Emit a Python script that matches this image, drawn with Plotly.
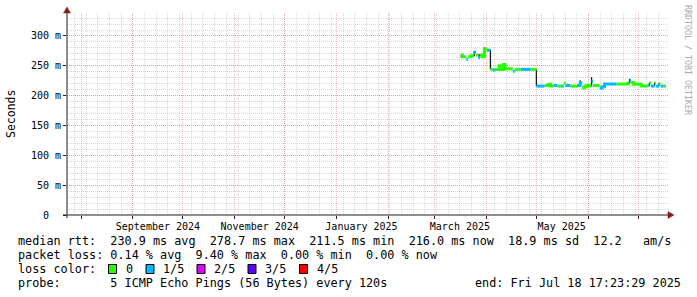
import plotly.graph_objects as go
import pandas as pd

# ---------------- data ----------------
x_start = "2024-07-23 12:00"
x_end = "2025-07-18 17:23"

# median rtt as a step series: segment start, value (ms), loss class (0 -> 0/5, 1 -> 1/5)
seg_start = [
    "2025-03-16 18:00", "2025-03-17 12:00", "2025-03-19 19:00", "2025-03-20 21:00",
    "2025-03-22 17:00", "2025-03-24 12:00", "2025-03-25 17:00", "2025-03-26 22:00",
    "2025-03-28 00:00", "2025-03-29 05:00", "2025-03-30 17:00", "2025-04-01 05:00",
    "2025-04-03 07:00", "2025-04-04 19:00", "2025-04-06 00:00", "2025-04-08 12:00",
    "2025-04-09 10:00", "2025-04-11 05:00", "2025-04-12 02:00", "2025-04-16 17:00",
    "2025-04-17 22:00", "2025-04-21 07:00", "2025-04-27 10:00", "2025-04-30 22:00",
    "2025-05-05 17:00", "2025-05-08 02:00", "2025-05-09 07:00", "2025-05-11 02:00",
    "2025-05-13 10:00", "2025-05-15 19:00", "2025-05-17 07:00", "2025-05-18 05:00",
    "2025-05-21 05:00", "2025-05-25 07:00", "2025-05-27 02:00", "2025-05-28 07:00",
    "2025-05-29 12:00", "2025-05-30 14:00", "2025-06-01 10:00", "2025-06-02 22:00",
    "2025-06-03 19:00", "2025-06-07 17:00", "2025-06-09 05:00", "2025-06-10 17:00",
    "2025-06-17 22:00", "2025-06-24 19:00", "2025-06-25 17:00", "2025-06-26 14:00",
    "2025-06-28 02:00", "2025-07-02 14:00", "2025-07-06 19:00", "2025-07-07 14:00",
    "2025-07-08 12:00", "2025-07-10 17:00", "2025-07-11 14:00", "2025-07-13 10:00",
    "2025-07-14 07:00", "2025-07-15 19:00",
]
seg_ms = [
    268, 265, 261, 265,
    267, 273, 268, 264,
    268, 265, 278, 276,
    244, 243, 244, 250,
    244, 252, 245, 241,
    244, 244, 244, 216,
    217, 219, 216, 217,
    216, 216, 221, 217,
    216, 217, 222, 213,
    215, 217, 216, 224,
    217, 213, 215, 219.5,
    219.5, 221, 226, 222,
    219, 216, 217, 221,
    216, 221, 216, 220,
    216, 216,
]
seg_loss = [
    0, 0, 1, 0,
    0, 1, 0, 1,
    0, 0, 0, 1,
    0, 1, 0, 0,
    0, 0, 0, 1,
    0, 1, 0, 1,
    0, 0, 0, 1,
    0, 1, 0, 1,
    0, 1, 1, 0,
    0, 0, 0, 1,
    0, 1, 1, 1,
    0, 0, 1, 0,
    0, 0, 1, 0,
    1, 0, 1, 0,
    1, 0,
]
data_end = "2025-07-17 12:00"

# smoke (spread of the pings) at a few spots
smoke_time = ["2025-03-16 20:00", "2025-03-24 14:00", "2025-03-27 12:00", "2025-03-30 19:00",
              "2025-04-03 07:00", "2025-04-08 12:00", "2025-04-11 05:00", "2025-04-30 20:00",
              "2025-05-27 02:00", "2025-06-02 22:00", "2025-06-25 17:00", "2025-07-07 14:00",
              "2025-07-10 17:00", "2025-07-13 10:00"]
smoke_lo = [264, 266, 265, 272, 244, 244, 245, 216, 216, 215, 220, 216, 216, 216]
smoke_hi = [269, 275, 270, 281, 277, 251, 253, 244, 226, 231, 228, 222, 222, 221]

y_ticks = [0, 50, 100, 150, 200, 250, 300]
y_tick_text = ["0\u00a0\u00a0", "50 m", "100 m", "150 m", "200 m", "250 m", "300 m"]
x_label_dates = ["2024-09-16", "2024-11-16", "2025-01-16", "2025-03-16", "2025-05-16"]
x_label_text = ["September 2024", "November 2024", "January 2025", "March 2025", "May 2025"]

loss_labels = ["0", "1/5", "2/5", "3/5", "4/5"]
loss_colors = ["#26ff00", "#00b8ff", "#dd00ff", "#5e00ff", "#ff0000"]

line_rtt = "median rtt:  230.9 ms avg  278.7 ms max  211.5 ms min  216.0 ms now  18.9 ms sd  12.2   am/s"
line_loss = "packet loss: 0.14 % avg  9.40 % max  0.00 % min  0.00 % now"
line_probe = "probe:       5 ICMP Echo Pings (56 Bytes) every 120s"
line_end = "end: Fri Jul 18 17:23:29 2025"

# ---------------- geometry helpers (pixels -> paper) ----------------
W, H = 697, 297
L, R, T, B = 67, 668, 13, 215


def px(x):
    return (x - L) / (R - L)


def py(y):
    return (B - y) / (B - T)


FONT = "DejaVu Sans Mono"
AXIS_COL = "#1f1f1f"
ARROW_COL = "#801f1f"
MGRID = "rgba(222,80,80,0.42)"
GRID = "rgba(140,140,140,0.32)"

fig = go.Figure()

# smoke
sx, sy = [], []
for t, lo, hi in zip(smoke_time, smoke_lo, smoke_hi):
    sx += [t, t, None]
    sy += [lo, hi, None]
fig.add_trace(go.Scatter(x=sx, y=sy, mode="lines", line=dict(color="#1a1a1a", width=1.3),
                         hoverinfo="skip"))

# median coloured by loss
ends = seg_start[1:] + [data_end]
n = len(seg_start)
for k in (0, 1):
    xs, ys = [], []
    i = 0
    while i < n:
        if seg_loss[i] != k:
            i += 1
            continue
        j = i
        while j + 1 < n and seg_loss[j + 1] == k:
            j += 1
        for m in range(i, j + 1):
            xs.append(seg_start[m])
            ys.append(seg_ms[m])
        xs.append(ends[j])
        ys.append(seg_ms[j])
        xs.append(None)
        ys.append(None)
        i = j + 1
    fig.add_trace(go.Scatter(x=xs, y=ys, mode="lines",
                             line=dict(color=loss_colors[k], width=3, shape="hv"),
                             connectgaps=False, hoverinfo="skip"))

# invisible trace to carry the label axis
fig.add_trace(go.Scatter(x=x_label_dates, y=[0] * len(x_label_dates), xaxis="x2",
                         mode="markers", marker=dict(opacity=0), hoverinfo="skip"))

month_starts = pd.date_range("2024-08-01", "2025-07-01", freq="MS")
weeks = pd.date_range("2024-07-28", "2025-07-13", freq="7D")

fig.update_layout(
    width=W, height=H,
    margin=dict(l=L, r=W - R, t=T, b=H - B),
    paper_bgcolor="white", plot_bgcolor="white",
    showlegend=False,
    font=dict(family=FONT, size=10, color="black"),
    xaxis=dict(
        type="date", range=[x_start, x_end],
        tickmode="array", tickvals=list(month_starts), ticktext=[""] * len(month_starts),
        showgrid=True, gridcolor=MGRID, griddash="1px,1px", gridwidth=1,
        ticks="outside", ticklen=3, tickcolor=AXIS_COL, tickwidth=1,
        showline=False, zeroline=False,
        minor=dict(tickmode="array", tickvals=list(weeks), showgrid=True,
                   gridcolor=GRID, griddash="1px,1px", gridwidth=1, ticks=""),
    ),
    xaxis2=dict(
        type="date", range=[x_start, x_end], overlaying="x", anchor="y", side="bottom",
        tickmode="array", tickvals=x_label_dates, ticktext=x_label_text,
        showgrid=False, ticks="", showline=False, zeroline=False,
        tickfont=dict(family=FONT, size=10, color="black"),
        ticklabelstandoff=4,
    ),
    yaxis=dict(
        range=[0, 338.5],
        tickmode="array", tickvals=y_ticks, ticktext=y_tick_text,
        showgrid=True, gridcolor=MGRID, griddash="1px,1px", gridwidth=1,
        ticks="outside", ticklen=3, tickcolor=AXIS_COL, tickwidth=1,
        showline=False, zeroline=False,
        tickfont=dict(family=FONT, size=10, color="black"),
        minor=dict(tick0=0, dtick=10, showgrid=True, gridcolor=GRID,
                   griddash="1px,1px", gridwidth=1, ticks=""),
    ),
)

shapes = []
# axis lines
shapes.append(dict(type="line", xref="paper", yref="paper", x0=px(67), x1=px(67),
                   y0=py(218), y1=py(12), line=dict(color=AXIS_COL, width=1)))
shapes.append(dict(type="line", xref="paper", yref="paper", x0=px(63), x1=px(669),
                   y0=py(215), y1=py(215), line=dict(color=AXIS_COL, width=1)))
# arrows
shapes.append(dict(type="path", xref="paper", yref="paper",
                   path=f"M {px(67)} {py(7)} L {px(63.5)} {py(13)} L {px(70.5)} {py(13)} Z",
                   fillcolor=ARROW_COL, line=dict(color=ARROW_COL, width=0.5)))
shapes.append(dict(type="path", xref="paper", yref="paper",
                   path=f"M {px(674)} {py(215)} L {px(668)} {py(211.5)} L {px(668)} {py(218.5)} Z",
                   fillcolor=ARROW_COL, line=dict(color=ARROW_COL, width=0.5)))

annotations = []


def txt(s, x, y, size=11.8, anchor="left", color="black", angle=0):
    annotations.append(dict(text=s.replace(" ", "\u00a0"), xref="paper", yref="paper",
                            x=px(x), y=py(y), xanchor=anchor, yanchor="middle",
                            showarrow=False, textangle=angle,
                            font=dict(family=FONT, size=size, color=color)))


txt(line_rtt, 16, 241)
txt(line_loss, 16, 255)
txt("loss color:", 16, 269)
box_x = [108.5, 146, 197, 248, 299.5]
for bx, lab, col in zip(box_x, loss_labels, loss_colors):
    shapes.append(dict(type="rect", xref="paper", yref="paper",
                       x0=px(bx), x1=px(bx + 8), y0=py(273.5), y1=py(264.5),
                       fillcolor=col, line=dict(color="black", width=1)))
    txt(lab, bx + 15, 269)
txt(line_probe, 16, 283)
txt(line_end, 683, 283, anchor="right")

# y axis title and watermark
annotations.append(dict(text="Seconds", xref="paper", yref="paper", x=px(11), y=py(114),
                        xanchor="center", yanchor="middle", showarrow=False, textangle=-90,
                        font=dict(family=FONT, size=11.5, color="black")))
annotations.append(dict(text="RRDTOOL / TOBI OETIKER".replace(" ", "\u00a0"), xref="paper",
                        yref="paper", x=px(688), y=py(60), xanchor="center", yanchor="middle",
                        showarrow=False, textangle=90,
                        font=dict(family=FONT, size=8.3, color="#aaaaaa")))

fig.update_layout(shapes=shapes, annotations=annotations)

fig.write_html("out.html")
